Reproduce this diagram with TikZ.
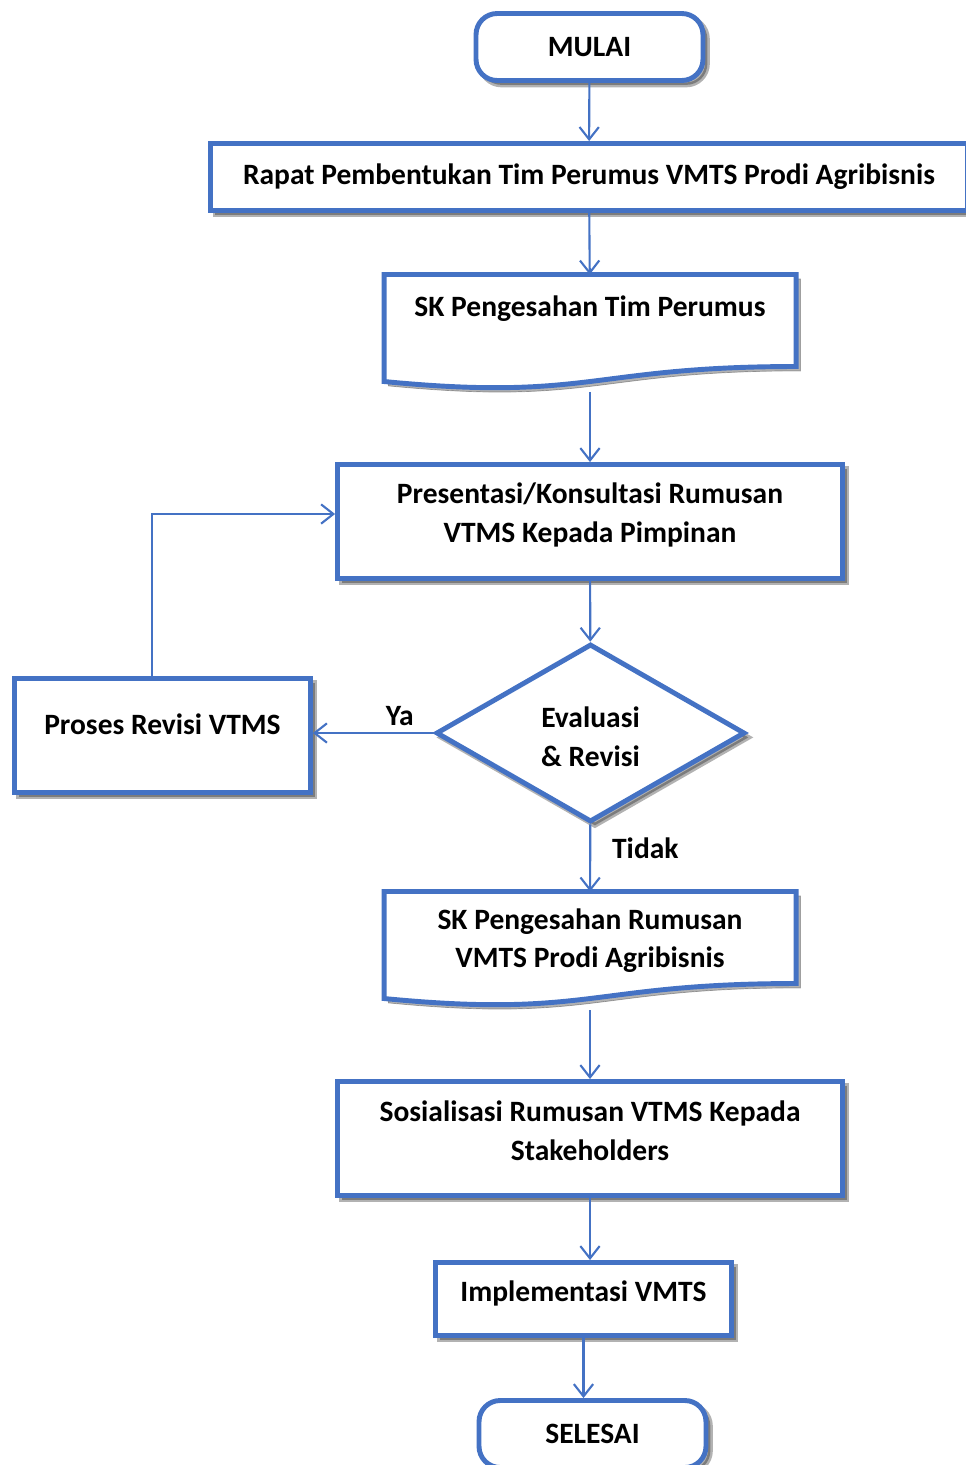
\documentclass[tikz,border=0pt]{standalone}
\usepackage{fontspec}
\setmainfont{Carlito}
\usetikzlibrary{shapes.geometric,arrows.meta,shadows,backgrounds}
\definecolor{flowblue}{HTML}{4472C4}

\begin{document}
\begin{tikzpicture}[->,>={Straight Barb[length=7pt,width=11pt]},draw=flowblue,line width=1.2pt,x=0.02cm,y=-0.02cm]
    \tikzstyle{shadowed}=[drop shadow={shadow xshift=2.5pt,shadow yshift=-2.5pt,opacity=.3,fill=black,draw=black}]
    \tikzstyle{label text}=[font=\bfseries\fontsize{16.8}{22}\selectfont,align=center,text=black]
    \tikzstyle{box}=[rectangle,draw=flowblue,line width=2.8pt,fill=white,inner sep=0pt,label text,shadowed]
    \tikzstyle{start stop}=[box,rounded corners=12pt,minimum width=4.54cm,minimum height=1.34cm]
    \tikzstyle{decision box}=[box,diamond,minimum width=6.18cm,minimum height=3.56cm]
    \tikzstyle{doc box}=[rectangle,inner sep=0pt,outer sep=0pt,minimum width=8.24cm,label text]
    \tikzstyle{doc line}=[-,draw=flowblue,line width=2.8pt,fill=white,shadowed]
    \tikzstyle{annot}=[label text]

    \useasboundingbox (0,0) rectangle (966,1465);
    \clip (0,0) rectangle (966,1465);

    % Terminals and steps
    \node[start stop] (mulai) at (589.5,47) {MULAI};
    \node[box,minimum width=15.14cm,minimum height=1.34cm] (rapat) at (589,177) {Rapat Pembentukan Tim Perumus VMTS Prodi Agribisnis};
    \node[doc box,minimum height=1.38cm] (skTim) at (590,309) {SK Pengesahan Tim Perumus};
    \node[box,minimum width=10.1cm,minimum height=2.28cm,text depth=10pt] (presentasi) at (590,521.5) {Presentasi/Konsultasi Rumusan\\VTMS Kepada Pimpinan};
    \node[decision box,text height=38.4pt] (evaluasi) at (590.5,733) {Evaluasi\\\& Revisi};
    \node[box,minimum width=5.92cm,minimum height=2.28cm,text depth=12.4pt] (revisi) at (162.5,735.5) {Proses Revisi VTMS};
    \node[doc box,minimum height=1.96cm] (skRumus) at (590,940.5) {SK Pengesahan Rumusan\\VMTS Prodi Agribisnis};
    \node[box,minimum width=10.1cm,minimum height=2.28cm,text depth=9pt] (sosialisasi) at (590,1138.5) {Sosialisasi Rumusan VTMS Kepada\\Stakeholders};
    \node[box,minimum width=5.92cm,minimum height=1.46cm,text depth=9pt] (implementasi) at (583.5,1299) {Implementasi VMTS};
    \node[start stop] (selesai) at (592.5,1434) {SELESAI};

    % Document shapes behind the SK nodes
    \begin{scope}[on background layer]
    \foreach \d in {skTim,skRumus}
        \draw[doc line,shift={(\d.north west)}] (0,0) -- (412,0) -- (412,92) .. controls (206,92) and (206,127) .. (0,107) -- cycle;
    \end{scope}

    % Connectors
    \path (mulai) edge (rapat);
    \path (rapat) edge (skTim);
    \path (skTim) edge[shorten <=0.97cm] (presentasi);
    \path (presentasi) edge (evaluasi);
    \path (evaluasi.west) edge node[annot,above,pos=0.28] {Ya} (evaluasi.west -| revisi.east);
    \path (evaluasi) edge node[annot,right,pos=0.36,xshift=0.3cm] {Tidak} (skRumus);
    \path (skRumus) edge[shorten <=0.41cm] (sosialisasi);
    \path (sosialisasi.south) edge (sosialisasi.south |- implementasi.north);
    \path (implementasi.south) edge (implementasi.south |- selesai.north);
    \draw ([xshift=-0.21cm]revisi.north) |- ([yshift=0.15cm]presentasi.west);
\end{tikzpicture}
\end{document}
